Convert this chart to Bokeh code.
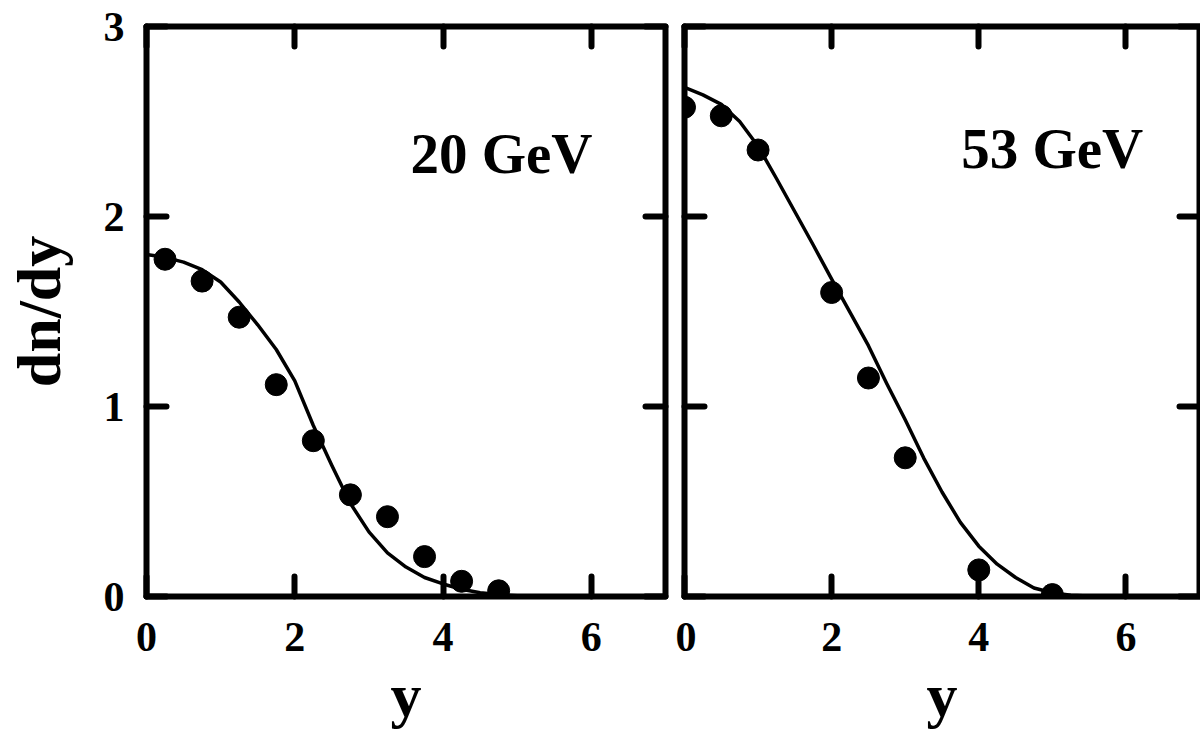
from bokeh.plotting import figure
from bokeh.models import Range1d, LinearAxis, FixedTicker, Label
from bokeh.layouts import row
from bokeh.embed import file_html
from bokeh.resources import INLINE

FONT = "Liberation Serif"

# ---- data: 20 GeV panel ----
pts20_y = [0.25, 0.75, 1.25, 1.75, 2.25, 2.75, 3.25, 3.75, 4.25, 4.75]
pts20_dndy = [1.775, 1.66, 1.47, 1.115, 0.82, 0.535, 0.42, 0.21, 0.08, 0.03]
curve20_y = [0.0, 0.25, 0.5, 0.75, 1.0, 1.25, 1.5, 1.75, 2.0, 2.25, 2.5,
             2.75, 3.0, 3.25, 3.5, 3.75, 4.0, 4.25, 4.5, 4.75, 5.0]
curve20_dndy = [1.80, 1.785, 1.76, 1.72, 1.655, 1.55, 1.43, 1.30, 1.135, 0.90, 0.69,
                0.49, 0.34, 0.23, 0.155, 0.10, 0.066, 0.038, 0.02, 0.01, 0.004]

# ---- data: 53 GeV panel ----
pts53_y = [0.0, 0.5, 1.0, 2.0, 2.5, 3.0, 4.0, 5.0]
pts53_dndy = [2.575, 2.53, 2.35, 1.60, 1.15, 0.73, 0.14, 0.01]
curve53_y = [0.0, 0.25, 0.5, 0.75, 1.0, 1.25, 1.5, 1.75, 2.0, 2.25, 2.5, 2.75,
             3.0, 3.25, 3.5, 3.75, 4.0, 4.25, 4.5, 4.75, 5.0, 5.25, 5.5, 5.75]
curve53_dndy = [2.68, 2.64, 2.59, 2.50, 2.37, 2.20, 2.025, 1.85, 1.67, 1.495, 1.32, 1.12,
                0.93, 0.73, 0.55, 0.39, 0.265, 0.17, 0.10, 0.045, 0.02, 0.007, 0.002, 0.0]

x_ticks = [0, 2, 4, 6]
y_ticks = [0, 1, 2, 3]
panel_titles = ["20 GeV", "53 GeV"]
x_title = "y"
y_title = "dn/dy"

# annotation anchor positions (data units)
title_pos = [(3.56, 2.33), (3.76, 2.36)]

H = 731
TOP = 26
FRAME_H = 571


def style_axis(ax, ticks, show_labels, standoff):
    ax.ticker = FixedTicker(ticks=ticks)
    ax.axis_line_color = None
    ax.major_tick_in = 20
    ax.major_tick_out = 0
    ax.major_tick_line_width = 6
    ax.major_tick_line_cap = "round"
    ax.major_tick_line_color = "black"
    ax.minor_tick_line_color = None
    ax.major_label_text_font = FONT
    ax.major_label_text_font_style = "bold"
    ax.major_label_text_color = "black"
    ax.axis_label_text_font = FONT
    ax.axis_label_text_font_style = "bold"
    ax.axis_label_text_font_size = "62px"
    ax.axis_label_text_color = "black"
    if show_labels:
        ax.major_label_text_font_size = "42px"
        ax.major_label_standoff = standoff
    else:
        ax.major_label_overrides = {t: "" for t in ticks}
        ax.major_label_text_font_size = "1px"
        ax.major_label_standoff = 0


def make_panel(width, bl, br, show_ylabels, xs, ys, cx, cy, title, tpos):
    p = figure(width=width, height=H, x_range=Range1d(0, 7), y_range=Range1d(0, 3),
               output_backend="svg", toolbar_location=None,
               min_border_left=bl, min_border_right=br,
               min_border_top=TOP, min_border_bottom=H - TOP - FRAME_H)
    p.grid.visible = False
    p.background_fill_color = "white"
    p.border_fill_color = "white"
    p.outline_line_color = "black"
    p.outline_line_width = 6
    p.outline_line_join = "round"

    style_axis(p.xaxis[0], x_ticks, True, 26)
    p.xaxis[0].axis_label = x_title
    p.xaxis[0].axis_label_standoff = 7
    style_axis(p.yaxis[0], y_ticks, show_ylabels, 22)
    top = LinearAxis()
    right = LinearAxis()
    style_axis(top, x_ticks, False, 0)
    style_axis(right, y_ticks, False, 0)
    p.add_layout(top, "above")
    p.add_layout(right, "right")

    p.line(cx, cy, line_width=3.5, line_color="black", line_join="round")
    p.scatter(xs, ys, size=22, fill_color="black", line_color="black")

    p.add_layout(Label(x=tpos[0], y=tpos[1], text=title, text_font=FONT,
                       text_font_style="bold", text_font_size="57px",
                       text_align="left", text_baseline="alphabetic",
                       text_color="black"))
    return p


p1 = make_panel(675, 146, 10, True, pts20_y, pts20_dndy, curve20_y, curve20_dndy,
                panel_titles[0], title_pos[0])
p1.yaxis[0].axis_label = y_title
p1.yaxis[0].axis_label_standoff = 28
p2 = make_panel(525, 9, 1, False, pts53_y, pts53_dndy, curve53_y, curve53_dndy,
                panel_titles[1], title_pos[1])

layout = row(p1, p2)
open("out.html", "w").write(file_html(layout, INLINE))
